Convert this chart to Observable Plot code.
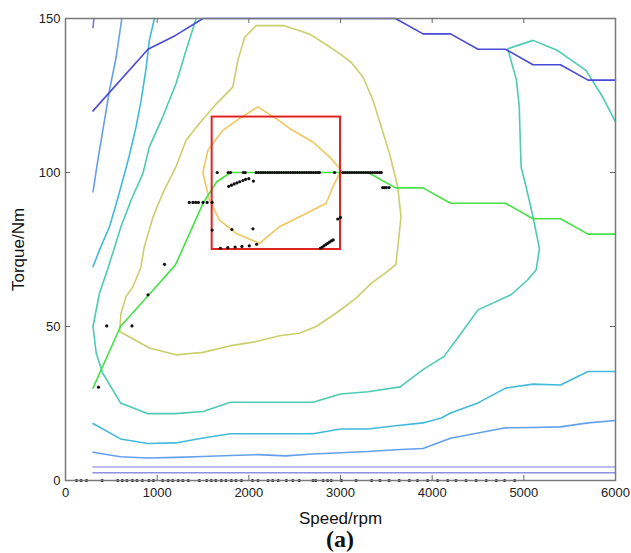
<!DOCTYPE html>
<html>
<head>
<meta charset="utf-8">
<script src="https://cdn.jsdelivr.net/npm/d3@7"></script>
<script src="https://cdn.jsdelivr.net/npm/@observablehq/plot@0.6"></script>
<style>
  body { margin: 0; background: #fff; }
  #wrap { width: 631px; }
  #cap { position: relative; width: 631px; height: 23px; }
  #cap span { position: absolute; left: 340px; top: -3px; transform: translateX(-50%);
    font-family: "Liberation Serif", "Times New Roman", serif; font-weight: bold; font-size: 24px; line-height: 24px; color: #111; }
</style>
</head>
<body>
<div id="wrap"></div>
<div id="cap"><span>(a)</span></div>
<script>
// ---- axis ticks ----
const xTicks = [0, 1000, 2000, 3000, 4000, 5000, 6000];
const yTicks = [0, 50, 100, 150];
const xInnerTicks = [1000, 2000, 3000, 4000, 5000];
const yInnerTicks = [50, 100];

// ---- curves [rpm, Nm] ----
const maxTorque = [[300,120],[900,140],[1200,144.5],[1500,150],[3600,150],[3900,145],[4200,145],[4500,140],[4800,140],[5100,135],[5400,135],[5700,130],[6000,130]];
const stubLine = [[310,150],[300,147]];
const purpleUpper = [[300,4.4],[6000,4.4]];
const purpleLower = [[300,2.5],[6000,2.5]];
const blueBottom = [[300,9.2],[600,7.7],[900,7.3],[1200,7.5],[1500,7.8],[1800,8.1],[2100,8.4],[2400,8.0],[2700,8.6],[3000,9.0],[3300,9.4],[3600,10.0],[3900,10.4],[4200,13.7],[4500,15.4],[4800,17.1],[5100,17.2],[5400,17.4],[5700,18.7],[6000,19.5]];
const blueLeft = [[614,150],[553,137.5],[480,126.7],[407,113.7],[353,104],[300,93.7]];
const cyanBottom = [[300,18.5],[600,13.5],[900,12.0],[1200,12.2],[1500,13.8],[1800,15.2],[2100,15.2],[2400,15.2],[2700,15.2],[3000,16.7],[3300,16.7],[3600,17.8],[3900,18.7],[4100,20.3],[4200,21.9],[4500,25.2],[4800,30.0],[5100,31.3],[5400,31.0],[5700,35.4],[6000,35.4]];
const cyanLeft = [[970,150],[915,143],[880,134],[825,123.4],[770,114.8],[700,106],[645,99.7],[555,90],[480,82.4],[370,74.8],[300,69.4]];
const tealLine = [[1425,150],[1315,139.6],[1205,128.8],[1060,118],[915,108.3],[845,99.7],[715,91],[605,82.4],[515,73.8],[445,67.3],[370,60.8],[300,50],[335,41.4],[405,34.9],[600,25.2],[900,21.7],[1200,21.7],[1500,22.4],[1800,25.4],[2100,25.4],[2400,25.4],[2700,25.4],[3000,28.1],[3300,28.8],[3650,30.4],[3900,36],[4130,40.3],[4330,48.4],[4500,55.4],[4860,60.3],[5040,65.1],[5135,68.4],[5170,75.4],[5100,85.6],[5025,95.3],[4970,101.8],[4950,121.3],[4920,129.9],[4825,140.2],[5100,142.9],[5370,139.6],[5680,133.1],[5860,124.5],[6000,116.4]];
const oliveLine = [[590,48.4],[915,43],[1205,40.8],[1500,41.6],[1790,43.7],[2080,45.1],[2335,47],[2550,47.8],[2735,50],[2950,54.3],[3170,59.2],[3335,64],[3535,68.4],[3605,70.2],[3660,85.6],[3625,95.3],[3535,106.1],[3445,114.8],[3355,123.4],[3245,131],[3115,135.8],[2990,138.6],[2805,142.3],[2660,145],[2380,147.7],[2080,147.7],[1955,143.9],[1880,136.4],[1825,127.7],[1645,122.3],[1460,115.9],[1315,110.5],[1205,101.8],[1060,93.2],[955,85.6],[860,75.9],[820,69],[735,62.9],[660,59.7],[605,54.3],[590,48.4]];
const yellowLine = [[2098,121.3],[2298,117.5],[2444,114.3],[2698,109.9],[2880,105.1],[3007,100.7],[2916,95.3],[2844,90.0],[2625,86.7],[2334,82.4],[2116,77.0],[1862,80.2],[1680,84.5],[1571,91.0],[1498,99.9],[1553,107.2],[1716,113.7],[1898,117.5],[2098,121.3]];
const greenLine = [[300,30],[600,50],[900,60],[1200,70],[1350,80],[1500,90],[1650,97],[1800,100],[3300,100],[3600,95],[3900,95],[4200,90],[4800,90],[5100,85],[5400,85],[5700,80],[6000,80]];

// ---- red box [rpm1, rpm2, Nm1, Nm2] ----
const redBox = [1600, 3000, 75, 118];

// ---- operating points ----
const row100Rpm = [1655,1775,1800,1940,1960,2080,2105,2130,2155,2180,2205,2230,2255,2280,2305,2330,2355,2380,2405,2430,2455,2480,2505,2530,2555,2580,2605,2630,2655,2680,2705,2730,2755,2770,2935,3025,3050,3075,3100,3125,3150,3175,3200,3225,3250,3275,3300,3325,3350,3375,3400,3425,3445];
const row90Rpm = [1350,1390,1420,1450,1500,1545,1600];
const row0Rpm = [120,170,230,400,570,620,670,730,780,840,910,960,1060,1120,1170,1230,1280,1340,1460,1540,1590,1640,1700,1750,1810,1860,1920,2040,2100,2210,2260,2320,2410,2480,2550,2700,2730,2810,2860,2900,3010,3170,3340,3430,3530,3640,3750,3840,3950,4060,4170,4260,4370,4480,4590,4700,4790,4900];
const otherPoints = [[1780,95.5],[1810,95.9],[1840,96.3],[1870,96.6],[1900,97.0],[1935,97.4],[1965,97.8],[2000,98.0],[2050,97.2],
  [1600,81.3],[1815,81.5],[2045,81.7],
  [1690,75.4],[1770,75.6],[1850,75.8],[1925,76],[2005,76.2],[2085,76.7],
  [2780,75.4],[2800,75.8],[2820,76.2],[2840,76.6],[2860,77],[2880,77.4],[2900,77.8],[2920,78.1],
  [2970,84.9],[3000,85.4],
  [3460,95.1],[3480,95.1],[3500,95.1],[3530,95.1],
  [360,30.3],[450,50.2],[725,50.2],[900,60.3],[1080,70.2]];

const points = [
  ...row100Rpm.map(r => [r, 100]),
  ...row90Rpm.map(r => [r, 90.3]),
  ...row0Rpm.map(r => [r, 0]),
  ...otherPoints
];

const curves = [
  {data: purpleUpper, color: "#a6a6f0"},
  {data: purpleLower, color: "#8e8ee6"},
  {data: blueBottom, color: "#64a0ea"},
  {data: blueLeft, color: "#64a0ea"},
  {data: cyanBottom, color: "#40bad8"},
  {data: cyanLeft, color: "#40bad8"},
  {data: tealLine, color: "#4ccbb4"},
  {data: oliveLine, color: "#c8d06c"},
  {data: yellowLine, color: "#f2c65e"},
  {data: stubLine, color: "#7676e2"},
  {data: maxTorque, color: "#4a4ad8"},
  {data: greenLine, color: "#44e244"}
];

const font = "'Liberation Sans', Arial, Helvetica, sans-serif";

const chart = Plot.plot({
  width: 631,
  height: 530,
  marginLeft: 65,
  marginRight: 16,
  marginTop: 18,
  marginBottom: 50,
  style: {fontFamily: font, fontSize: "13px", background: "#fff", color: "#222"},
  x: {domain: [0, 6000]},
  y: {domain: [0, 150]},
  marks: [
    Plot.axisX({ticks: xTicks, tickSize: 0, tickPadding: 7, label: null, tickFormat: d => String(d), fontSize: 13}),
    Plot.axisY({ticks: yTicks, tickSize: 0, tickPadding: 5, label: null, tickFormat: d => String(d), fontSize: 13}),
    ...curves.map(c => Plot.line(c.data, {x: d => d[0], y: d => d[1], stroke: c.color, strokeWidth: 1.6})),
    Plot.rect([redBox], {x1: d => d[0], x2: d => d[1], y1: d => d[2], y2: d => d[3], fill: "none", stroke: "#e02424", strokeWidth: 2}),
    Plot.dot(points, {x: d => d[0], y: d => d[1], r: 1.6, fill: "#111", stroke: "none"}),
    Plot.frame({stroke: "#7a7a7a", strokeWidth: 1.5}),
    Plot.tickX(xInnerTicks, {x: d => d, insetTop: 457, stroke: "#666"}),
    Plot.tickX(xInnerTicks, {x: d => d, insetBottom: 457, stroke: "#666"}),
    Plot.tickY(yInnerTicks, {y: d => d, insetRight: 545, stroke: "#666"}),
    Plot.tickY(yInnerTicks, {y: d => d, insetLeft: 545, stroke: "#666"}),
    Plot.text(["Speed/rpm"], {frameAnchor: "bottom", dy: 38, text: d => d, fontSize: 17, lineAnchor: "middle", textAnchor: "middle", fill: "#111"}),
    Plot.text(["Torque/Nm"], {frameAnchor: "left", dx: -47, rotate: -90, text: d => d, fontSize: 17, lineAnchor: "middle", textAnchor: "middle", fill: "#111"})
  ]
});
document.getElementById("wrap").appendChild(chart);
</script>
</body>
</html>
